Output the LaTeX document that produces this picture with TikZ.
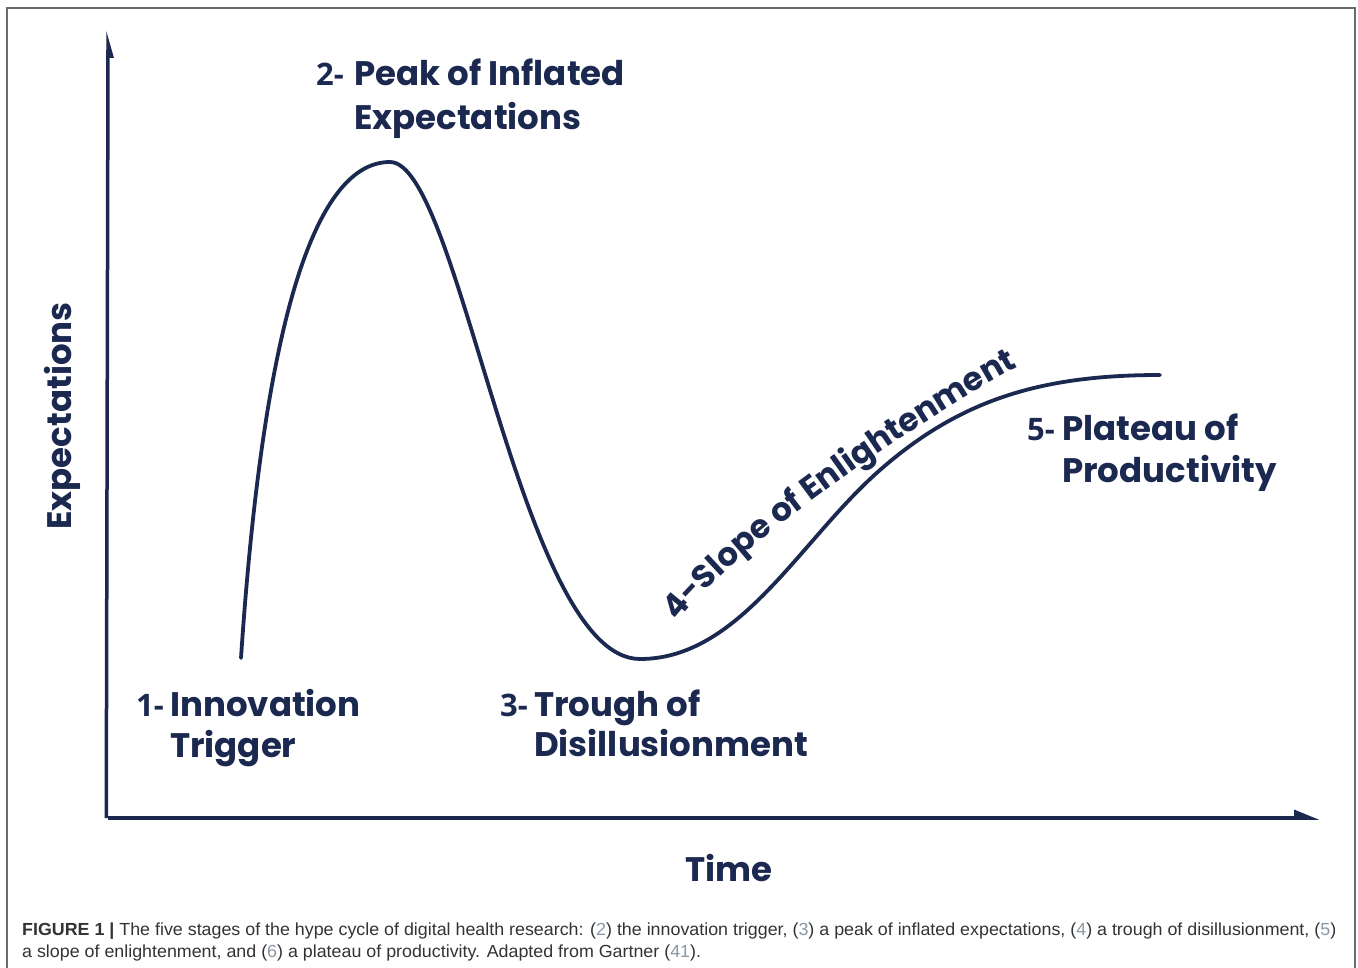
\documentclass[tikz,border=0pt]{standalone}
\usepackage{fontspec}
\usepackage{graphicx}
\setmainfont{Liberation Sans}
\newfontfamily\hfont{Poppins}
\newfontfamily\pfont{Open Sans}
\usetikzlibrary{decorations.text}
\definecolor{navy}{HTML}{1B2850}
\definecolor{framec}{HTML}{6A6A6A}
\definecolor{capc}{HTML}{333333}
\definecolor{capnum}{HTML}{8A96A3}
\newlength\capw
\newcommand\cn[1]{({\color{capnum}#1})}
\newcommand\capfont{\fontsize{17.5}{20}\selectfont}
\newcommand\labfont{\hfont\bfseries\fontsize{34}{40}\selectfont}
\newcommand\slopefont{\hfont\bfseries\fontsize{32.5}{36}\selectfont}
\newcommand\prefont{\pfont\bfseries\fontsize{31}{36}\selectfont}
\newcommand\capone{{\bfseries FIGURE 1 |} The five stages of the hype cycle of digital health research: \cn{2} the innovation trigger, \cn{3} a peak of inflated expectations, \cn{4} a trough of disillusionment, \cn{5}}
\newcommand\captwo{a slope of enlightenment, and \cn{6} a plateau of productivity. Adapted from Gartner \cn{41}.}
\tikzset{
  lab/.style={inner sep=0pt, anchor=base west, text=navy, font=\labfont},
  pre/.style={inner sep=0pt, anchor=base west, text=navy, font=\prefont},
  axis/.style={draw=navy, line width=3.5pt},
  head/.style={fill=navy},
  hype/.style={draw=navy, line width=3.8pt, line cap=round},
  caption/.style={inner sep=0pt, anchor=base west, text=capc, font=\capfont}
}
\begin{document}
\settowidth\capw{\capfont\capone}%
\pgfmathsetmacro\capf{1314/\capw}%
\begin{tikzpicture}[x=1pt,y=-1pt]
\useasboundingbox (0,0) rectangle (1358,968);
\fill[white] (0,0) rectangle (1358,968);
% frame
\draw[framec, line width=2pt] (7,968) -- (7,8) -- (1355,8) -- (1355,968);
% axes
\coordinate (origin) at (108,818);
\coordinate (ytop) at (108,50);
\coordinate (xend) at (1300,818);
\draw[axis] (106.25,818) -- (ytop);
\draw[axis] (origin) -- (xend);
\fill[head] (106.25,31) -- (114,58) -- (106.25,58) -- cycle;
\fill[head] (1294,809.5) -- (1319,819.75) -- (1294,819.75) -- cycle;
% hype curve
\draw[hype] (241,658) .. controls (265,300) and (320,162) .. (390,162)
  .. controls (460,162) and (520,659) .. (640,659)
  .. controls (740,659) and (800,540) .. (880,470)
  .. controls (960,400) and (1040,375) .. (1160,375);
% slope label along path
\path[decorate, decoration={text along path, text align=left,
  text={|\slopefont\color{navy}|4-Slope of Enlightenment}}]
  (678,622) .. controls (738,542) and (925,418) .. (1015,368) -- (1070,338);
% stage labels
\node[pre] (p1) at (136,716) {1-};
\node[lab] (l1a) at (170,716) {Innovation};
\node[lab] (l1b) at (170,757) {Trigger};
\node[pre] (p2) at (316,86) {2-};
\node[lab] (l2a) at (354,86) {Peak of Inflated};
\node[lab] (l2b) at (354,130) {Expectations};
\node[pre] (p3) at (500,716) {3-};
\node[lab] (l3a) at (534,716) {Trough of};
\node[lab] (l3b) at (534,756) {Disillusionment};
\node[pre] (p5) at (1027,440) {5-};
\node[lab] (l5a) at (1062,440) {Plateau of};
\node[lab] (l5b) at (1062,482) {Productivity};
% axis titles
\node[text=navy, font=\labfont, inner sep=0pt, rotate=90] (ylab) at (62,416) {Expectations};
\node[text=navy, font=\labfont, inner sep=0pt, anchor=base] (xlab) at (729,881) {Time};
% caption
\node[caption] (cap1) at (22,935) {\scalebox{\capf}[1]{\capone}};
\node[caption] (cap2) at (22,957) {\scalebox{\capf}[1]{\captwo}};
\end{tikzpicture}
\end{document}
